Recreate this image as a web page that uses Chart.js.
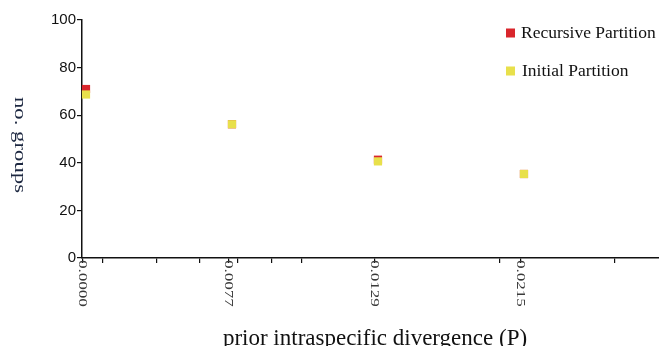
<!DOCTYPE html>
<html>
<head>
<meta charset="utf-8">
<script src="https://cdn.jsdelivr.net/npm/chart.js@4.4.1/dist/chart.umd.min.js"></script>
<style>
  html, body { margin: 0; padding: 0; background: #fff; }
  .wrap { width: 659px; height: 346px; position: relative; }
</style>
</head>
<body>
<div class="wrap"><canvas id="groupsChart"></canvas></div>
<script>
const divergenceLabels = ["0.0000", "0.0077", "0.0129", "0.0215"];
const recursiveGroups = [71, 56.2, 41.3, 35.3];
const initialGroups = [68.7, 56.2, 40.6, 35.3];
const yTicks = [0, 20, 40, 60, 80, 100];
// extra unlabeled tick marks on the x axis (in category-index units)
const minorTicks = [0.116, 0.486, 0.781, 1.041, 1.274, 1.479, 2.836, 3.623];

const serif = "'Liberation Serif', 'Times New Roman', serif";
const sans = "'Liberation Sans', Arial, sans-serif";
const tickShift = -0.024;

const toPoints = (values) => values.map((v, i) => ({ x: i, y: v }));

const customText = {
  id: "customText",
  afterDraw(chart) {
    const { ctx, chartArea, scales } = chart;
    const x = scales.x;

    // rotated x tick labels, reading top to bottom
    ctx.save();
    ctx.fillStyle = "#3a3a3a";
    ctx.font = "12px " + serif;
    ctx.textAlign = "left";
    ctx.textBaseline = "middle";
    divergenceLabels.forEach((label, i) => {
      const px = x.getPixelForValue(i + tickShift);
      ctx.save();
      ctx.translate(px - 0.5, chartArea.bottom + 2);
      ctx.rotate(Math.PI / 2);
      ctx.scale(1.42, 1);
      ctx.fillText(label, 0, 0);
      ctx.restore();
    });
    ctx.restore();

    // y axis title, reading top to bottom
    ctx.save();
    ctx.fillStyle = "#1c2740";
    ctx.font = "17.5px " + serif;
    ctx.textAlign = "center";
    ctx.textBaseline = "middle";
    ctx.translate(20, (chartArea.top + chartArea.bottom) / 2 + 6);
    ctx.rotate(Math.PI / 2);
    ctx.scale(1.3, 1);
    ctx.fillText("no. groups", 0, 0);
    ctx.restore();

    // x axis title
    ctx.save();
    ctx.fillStyle = "#111";
    ctx.font = "23px " + serif;
    ctx.textAlign = "center";
    ctx.textBaseline = "alphabetic";
    ctx.fillText("prior intraspecific divergence (P)", 375, 344.5);
    ctx.restore();

    // legend in the top right corner
    ctx.save();
    ctx.font = "17.5px " + serif;
    ctx.textAlign = "left";
    ctx.textBaseline = "alphabetic";
    const rows = [chart.data.datasets[0], chart.data.datasets[1]];
    rows.forEach((ds, i) => {
      const base = 38 + i * 38;
      ctx.fillStyle = ds.backgroundColor;
      ctx.fillRect(506, base - 9.5, 9, 9);
      ctx.fillStyle = "#111";
      ctx.fillText(ds.label, 521 + i, base);
    });
    ctx.restore();
  }
};

const ctx = document.getElementById("groupsChart");
new Chart(ctx, {
  type: "scatter",
  data: {
    datasets: [
      {
        label: "Recursive Partition",
        data: toPoints(recursiveGroups),
        backgroundColor: "#d9262c",
        borderWidth: 0,
        pointStyle: "rect",
        pointRadius: 5.8,
        pointHoverRadius: 5.8,
        order: 1,
        clip: false
      },
      {
        label: "Initial Partition",
        data: toPoints(initialGroups),
        backgroundColor: "#e8e04b",
        borderWidth: 0,
        pointStyle: "rect",
        pointRadius: 5.8,
        pointHoverRadius: 5.8,
        order: 0,
        clip: false
      }
    ]
  },
  options: {
    responsive: true,
    maintainAspectRatio: false,
    animation: false,
    layout: { autoPadding: false, padding: { top: 20, right: 0, bottom: 0, left: 0 } },
    plugins: {
      legend: { display: false },
      tooltip: { enabled: false }
    },
    scales: {
      x: {
        type: "linear",
        min: -0.0274,
        max: 3.925,
        afterFit: (scale) => { scale.height = 88; },
        afterBuildTicks: (scale) => {
          const majors = divergenceLabels.map((_, i) => i + tickShift);
          scale.ticks = majors.concat(minorTicks).sort((a, b) => a - b).map((value) => ({ value }));
        },
        ticks: { display: false, autoSkip: false },
        grid: { drawOnChartArea: false, drawTicks: true, tickLength: 5, color: "#111", lineWidth: 1.2 },
        border: { display: true, color: "#111", width: 1.5 },
        title: { display: false }
      },
      y: {
        min: 0,
        max: 100,
        afterFit: (scale) => { scale.width = 82; },
        afterBuildTicks: (scale) => {
          scale.ticks = yTicks.map((value) => ({ value }));
        },
        ticks: { color: "#111", padding: 1, font: { family: sans, size: 15 } },
        grid: { drawOnChartArea: false, drawTicks: true, tickLength: 5, color: "#111", lineWidth: 1.2 },
        border: { display: true, color: "#111", width: 1.5 }
      }
    }
  },
  plugins: [customText]
});
</script>
</body>
</html>
